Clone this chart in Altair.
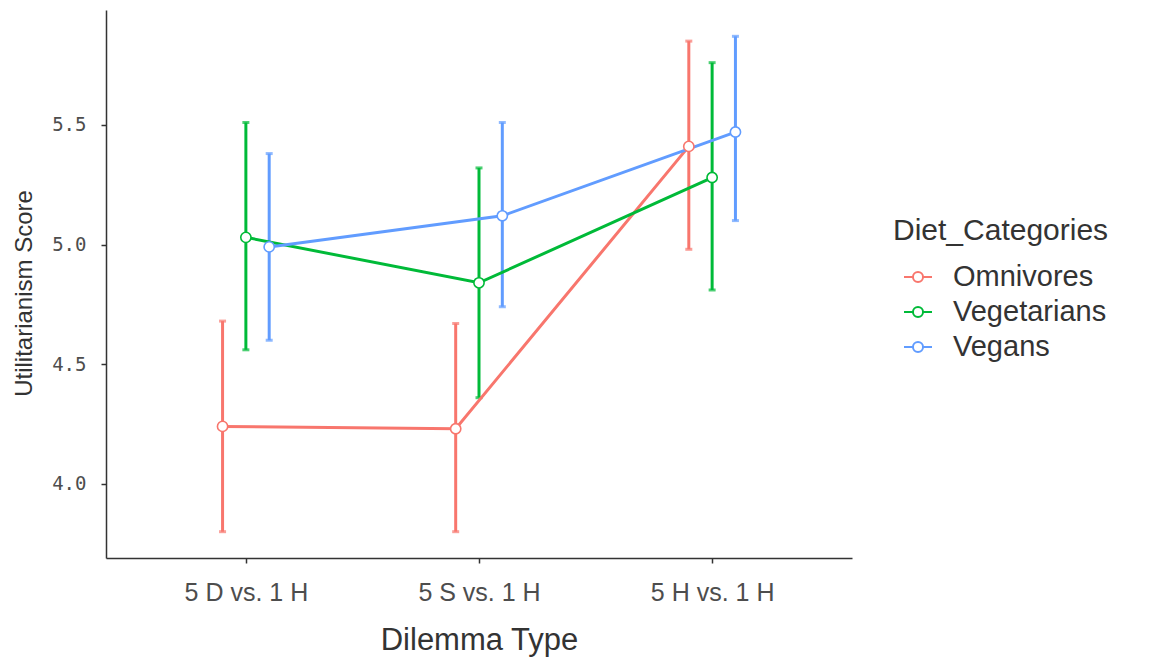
import json
import altair as alt
import pandas as pd

# ---- data ----
dilemmas = ["5 D vs. 1 H", "5 S vs. 1 H", "5 H vs. 1 H"]
diets = ["Omnivores", "Vegetarians", "Vegans"]

omni_mean = [4.24, 4.23, 5.41]
omni_lo = [3.80, 3.80, 4.98]
omni_hi = [4.68, 4.67, 5.85]

veg_mean = [5.03, 4.84, 5.28]
veg_lo = [4.56, 4.36, 4.81]
veg_hi = [5.51, 5.32, 5.76]

vegan_mean = [4.99, 5.12, 5.47]
vegan_lo = [4.60, 4.74, 5.10]
vegan_hi = [5.38, 5.51, 5.87]

colors = ["#F8766D", "#00BA38", "#619CFF"]

rows = []
for diet, m, lo, hi in [
    ("Omnivores", omni_mean, omni_lo, omni_hi),
    ("Vegetarians", veg_mean, veg_lo, veg_hi),
    ("Vegans", vegan_mean, vegan_lo, vegan_hi),
]:
    for d, mv, lv, hv in zip(dilemmas, m, lo, hi):
        rows.append({"Dilemma": d, "Diet": diet, "score": mv, "lo": lv, "hi": hv})
df = pd.DataFrame(rows)

dil_js = json.dumps(dilemmas)
diet_js = json.dumps(diets)

base = alt.Chart(df).transform_calculate(
    xpos=f"indexof({dil_js}, datum.Dilemma) + (indexof({diet_js}, datum.Diet) - 1) * 0.1",
    Diet_Categories="datum.Diet",
)

xenc = alt.X(
    "xpos:Q",
    scale=alt.Scale(domain=[-0.6, 2.6], nice=False, zero=False),
    axis=alt.Axis(
        values=[0, 1, 2],
        labelExpr=f"{dil_js}[datum.value]",
        title="Dilemma Type",
        grid=False,
        labelFont="Liberation Sans",
        labelFontSize=25,
        labelColor="#4d4d4d",
        labelPadding=17,
        titleFont="Liberation Sans",
        titleFontSize=31,
        titleFontWeight="normal",
        titleColor="#333333",
        titlePadding=20,
    ),
)

yscale = alt.Scale(domain=[3.69, 5.98], nice=False, zero=False)
yaxis = alt.Axis(
    values=[4.0, 4.5, 5.0, 5.5],
    format=".1f",
    title="Utilitarianism Score",
    grid=False,
    labelFont="DejaVu Sans Mono",
    labelFontSize=19,
    labelColor="#4d4d4d",
    labelPadding=15,
    titleFont="Liberation Sans",
    titleFontSize=24,
    titleFontWeight="normal",
    titleColor="#333333",
    titlePadding=15,
    titleY=283,
)

color_scale = alt.Scale(domain=diets, range=colors)

legend_symbol = "M-1,0L-0.36,0M0.36,0L1,0M0.36,0A0.36,0.36,0,1,1,-0.36,0A0.36,0.36,0,1,1,0.36,0Z"

color = alt.Color("Diet:N", scale=color_scale, legend=None)

rules = base.mark_rule(strokeWidth=3).encode(
    x=xenc,
    y=alt.Y("lo:Q", scale=yscale, axis=yaxis),
    y2="hi:Q",
    color=color,
)
cap_lo = base.mark_tick(orient="horizontal", size=7, thickness=3).encode(
    x=xenc,
    y=alt.Y("lo:Q", scale=yscale, axis=yaxis),
    color=color,
)
cap_hi = base.mark_tick(orient="horizontal", size=7, thickness=3).encode(
    x=xenc,
    y=alt.Y("hi:Q", scale=yscale, axis=yaxis),
    color=color,
)
lines = base.mark_line(strokeWidth=3).encode(
    x=xenc,
    y=alt.Y("score:Q", scale=yscale, axis=yaxis),
    color=color,
    detail="Diet:N",
    order="xpos:Q",
)
points = base.mark_point(filled=False, size=105, fill="white", fillOpacity=1, strokeWidth=1.6, opacity=1).encode(
    x=xenc,
    y=alt.Y("score:Q", scale=yscale, axis=yaxis),
    stroke=alt.Stroke(
        "Diet_Categories:N",
        scale=color_scale,
        legend=alt.Legend(
            title="Diet_Categories",
            orient="none",
            legendX=787,
            legendY=206,
            titleLimit=500,
            labelLimit=500,
            symbolType=legend_symbol,
            symbolFillColor="white",
            symbolSize=784,
            symbolStrokeWidth=2,
        ),
    ),
)

chart = (
    alt.layer(rules, cap_lo, cap_hi, lines, points)
    .resolve_scale(stroke="independent")
    .properties(
        width=746,
        height=548,
        autosize=alt.AutoSizeParams(type="none"),
        padding={"left": 98, "top": 2, "right": 290, "bottom": 99},
        background="white",
    )
    .configure_view(stroke=None)
    .configure_axis(
        domainColor="#333333",
        domainWidth=1.5,
        tickColor="#333333",
        tickWidth=1.5,
        tickSize=5,
    )
    .configure_legend(
        padding=0,
        titleFont="Liberation Sans",
        titleFontSize=30,
        titleFontWeight="normal",
        titleColor="#333333",
        titlePadding=16,
        labelFont="Liberation Sans",
        labelFontSize=29,
        labelColor="#333333",
        labelOffset=20,
        symbolType=legend_symbol,
        symbolSize=784,
        symbolFillColor="white",
        symbolStrokeWidth=2,
        symbolOffset=10,
        rowPadding=5,
    )
)

chart.save("out.html", embed_options={"renderer": "svg", "actions": False})
